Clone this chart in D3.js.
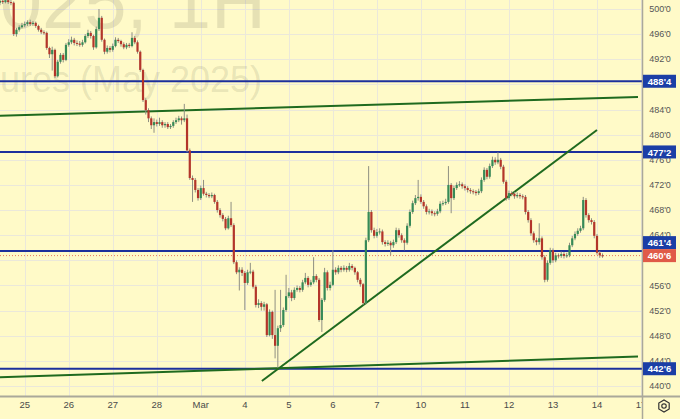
<!DOCTYPE html>
<html><head><meta charset="utf-8">
<script src="https://cdn.jsdelivr.net/npm/d3@7"></script>
<style>html,body{margin:0;padding:0;background:#fffac8;} svg{display:block}</style>
</head><body>
<svg id="chart" width="680" height="419"></svg>
<script>
// ---- data ----
const dateLabels = ["25","26","27","28","Mar","4","5","6","7","10","11","12","13","14","17"];
const dateBarIndex = [9,25,41,57,73,89,105,121,137,153,169,185,201,217,233];
const priceTicks = [440,444,448,452,456,460,464,468,472,476,480,484,488,492,496,500];
const levelPrices = [488.5, 477.25, 461.5, 442.75];
const lastPrice = 460.75;
const watermarkLines = ["ZCK2025, 1H", "Corn Futures (May 2025)"];
// trend lines: [barIndex, price] pairs
const upperLine = [[0, 483.0], [231.9, 486.0]];
const risingLine = [[95.2, 440.8], [217, 480.74]];
const lowerLine = [[0, 441.4], [231.9, 444.7]];

const open = [501.0,501.3,501.1,501.4,501.1,501.0,496.0,496.7,497.1,497.4,497.6,497.9,497.6,497.8,497.3,496.7,496.3,496.2,493.8,492.8,
493.5,489.3,491.6,492.7,491.9,494.3,494.7,495.1,494.6,494.5,494.3,494.7,495.7,496.2,495.7,493.9,496.8,498.6,495.1,493.2,
493.8,493.5,494.1,495.1,494.9,494.4,493.9,494.3,494.1,495.4,494.7,493.2,490.3,485.5,483.9,482.6,481.5,482.0,481.7,482.0,
481.5,481.7,481.2,481.4,482.0,482.3,482.6,482.3,482.6,477.5,473.1,472.8,471.2,469.9,471.5,470.6,470.4,470.2,470.4,469.3,
468.0,467.2,466.6,465.1,466.7,465.6,459.7,458.1,458.5,458.0,456.4,458.1,458.2,455.8,452.9,453.2,452.6,453.0,448.1,451.8,
448.1,446.4,449.2,449.7,452.1,454.3,454.9,454.0,455.3,455.6,455.3,456.5,457.2,456.1,456.5,457.5,456.9,450.5,453.7,458.1,
455.6,456.1,458.5,458.1,458.8,458.5,458.8,458.5,459.1,458.8,458.1,456.9,456.2,453.2,463.2,467.7,464.8,463.9,464.5,464.6,
462.9,462.6,462.8,462.4,462.9,464.8,464.0,463.2,462.8,465.5,467.7,469.1,469.9,470.1,469.3,468.6,467.7,467.8,467.5,467.4,
467.8,469.0,469.1,469.3,472.0,469.9,471.5,472.0,472.1,471.8,471.5,471.2,471.0,470.9,470.7,471.0,472.8,474.4,473.3,475.0,
476.0,475.6,476.0,474.9,472.5,469.9,470.7,470.6,470.2,470.4,470.2,470.1,467.7,466.4,464.3,463.2,462.9,463.5,460.5,456.9,
459.6,461.6,460.0,460.8,460.7,461.0,460.7,460.8,462.4,463.5,464.2,464.7,465.1,469.6,467.2,466.4,466.1,463.9,461.2,460.8];
const close = [501.3,501.1,501.4,501.1,501.0,496.0,496.7,497.1,497.4,497.6,497.9,497.6,497.8,497.3,496.7,496.3,496.2,493.8,492.8,493.5,
489.3,491.6,492.7,491.9,494.3,494.7,495.1,494.6,494.5,494.3,494.7,495.7,496.2,495.7,493.9,496.8,498.6,495.1,493.2,493.8,
493.5,494.1,495.1,494.9,494.4,493.9,494.3,494.1,495.4,494.7,493.2,490.3,485.5,483.9,482.6,481.5,482.0,481.7,482.0,481.5,
481.7,481.2,481.4,482.0,482.3,482.6,482.3,482.6,477.5,473.1,472.8,471.2,469.9,471.5,470.6,470.4,470.2,470.4,469.3,468.0,
467.2,466.6,465.1,466.7,465.6,459.7,458.1,458.5,458.0,456.4,458.1,458.2,455.8,452.9,453.2,452.6,453.0,448.1,451.8,448.1,
446.4,449.2,449.7,452.1,454.3,454.9,454.0,455.3,455.6,455.3,456.5,457.2,456.1,456.5,457.5,456.9,450.5,453.7,458.1,455.6,
456.1,458.5,458.1,458.8,458.5,458.8,458.5,459.1,458.8,458.1,456.9,456.2,453.2,463.2,467.7,464.8,463.9,464.5,464.6,462.9,
462.6,462.8,462.4,462.9,464.8,464.0,463.2,462.8,465.5,467.7,469.1,469.9,470.1,469.3,468.6,467.7,467.8,467.5,467.4,467.8,
469.0,469.1,469.3,472.0,469.9,471.5,472.0,472.1,471.8,471.5,471.2,471.0,470.9,470.7,471.0,472.8,474.4,473.3,475.0,476.0,
475.6,476.0,474.9,472.5,469.9,470.7,470.6,470.2,470.4,470.2,470.1,467.7,466.4,464.3,463.2,462.9,463.5,460.5,456.9,459.6,
461.6,460.0,460.8,460.7,461.0,460.7,460.8,462.4,463.5,464.2,464.7,465.1,469.6,467.2,466.4,466.1,463.9,461.2,460.8,460.75];
const high = [501.8,501.6,501.9,501.7,501.5,501.2,497.0,497.4,497.8,498.0,498.2,498.3,498.1,498.0,497.5,497.0,496.6,496.4,494.0,494.0,
493.7,491.9,493.0,493.0,494.6,495.2,495.6,495.4,495.0,494.9,495.1,496.0,496.7,496.5,495.9,497.2,500.0,498.9,495.3,494.2,
494.1,494.5,495.5,495.4,495.1,494.7,494.6,494.6,496.3,495.7,495.0,493.4,490.5,485.8,484.2,482.9,482.6,482.4,482.7,482.3,
482.0,482.0,481.7,482.3,482.7,483.0,482.9,484.9,483.2,477.8,473.5,473.1,471.5,471.9,472.8,470.9,470.7,470.8,470.6,469.6,
468.3,467.5,466.9,467.1,469.3,465.9,460.0,458.9,458.9,458.3,458.5,459.6,458.5,456.1,453.8,453.5,453.4,453.2,452.2,452.0,
455.3,449.6,455.3,452.5,457.7,455.6,455.3,455.7,456.0,455.9,456.9,458.0,457.5,456.9,460.5,457.8,457.2,454.0,458.8,458.4,
456.6,461.6,458.9,459.2,459.1,459.2,459.1,459.6,459.4,459.0,458.3,457.2,456.4,463.6,475.0,468.0,465.2,465.0,465.1,464.9,
463.2,463.2,463.1,463.3,465.2,465.1,464.3,463.5,465.9,468.1,469.5,470.4,472.8,470.5,469.6,468.9,468.2,468.1,467.8,468.2,
469.4,469.5,469.8,475.0,472.3,471.9,472.4,472.6,472.4,472.1,471.8,471.5,471.3,471.2,471.4,473.2,474.8,474.7,475.4,476.5,
476.4,477.2,476.3,475.2,472.8,471.1,471.0,470.9,470.8,470.7,470.5,470.4,468.0,466.7,464.6,463.6,465.9,463.8,460.8,460.0,
462.0,461.9,461.2,461.1,461.4,461.3,461.2,462.8,463.9,464.6,465.1,465.5,470.1,469.9,467.5,466.7,466.4,464.2,461.5,461.1];
const low = [500.6,500.8,500.9,500.8,500.6,495.7,495.6,496.4,496.9,497.1,497.3,497.3,497.3,497.0,496.4,496.0,495.9,493.5,492.2,490.2,
489.0,489.1,491.3,491.5,491.7,494.0,494.4,494.2,494.1,494.0,494.0,494.5,495.4,495.3,493.5,493.7,496.5,494.8,492.8,492.9,
493.1,493.2,493.9,494.6,494.0,493.6,493.6,493.8,493.9,494.4,492.9,490.0,485.2,483.2,482.0,480.9,480.3,481.3,481.4,481.1,
481.1,480.9,480.9,481.1,481.7,482.0,481.6,482.0,477.2,472.8,469.3,470.8,469.5,469.6,470.3,470.0,469.9,469.9,469.0,467.6,
466.8,466.2,464.8,464.9,465.3,459.4,457.8,455.2,457.5,452.1,456.1,457.8,455.5,452.5,452.4,452.0,452.0,447.8,447.9,447.5,
444.4,442.9,448.6,449.4,451.8,454.0,453.5,453.7,455.0,454.9,455.0,456.2,455.7,455.8,456.2,456.5,450.2,448.6,453.4,455.2,
455.2,455.9,457.7,457.8,458.1,458.2,458.1,458.2,458.4,457.7,456.5,455.8,452.9,453.0,462.9,464.4,463.5,463.6,464.1,462.5,
462.2,462.3,460.8,462.0,462.6,463.6,462.8,461.6,462.5,465.2,467.4,468.8,469.5,469.0,468.2,467.3,467.3,467.1,467.0,467.1,
467.5,468.7,468.8,469.0,467.5,469.6,471.2,471.7,471.4,471.1,470.8,470.6,470.5,470.3,470.4,470.7,472.5,472.9,473.0,474.7,
475.2,475.3,474.5,472.2,469.5,469.6,470.2,469.8,469.9,469.8,469.7,467.3,466.0,463.9,462.8,462.4,462.5,460.1,456.5,456.6,
459.3,459.6,459.7,460.3,460.4,460.3,460.4,460.5,462.1,463.2,463.9,464.4,464.8,466.8,466.0,465.7,463.5,460.9,460.4,460.4];

// ---- layout ----
const W = 680, H = 419, plotR = 642, plotB = 396;
const svg = d3.select("#chart");
const x = d3.scaleLinear().domain([9, 217]).range([24.7, 597]);
const y = d3.scaleLinear().domain([440, 500]).range([386, 9]);
const fmt = v => { const w = Math.floor(v + 1e-9); return w + "'" + Math.round((v - w) * 8); };

svg.append("rect").attr("width", W).attr("height", H).attr("fill", "#fffac8");
const defs = svg.append("defs");
defs.append("clipPath").attr("id", "plot").append("rect").attr("x", 0).attr("y", 0).attr("width", plotR).attr("height", plotB);
defs.append("clipPath").attr("id", "xaxis").append("rect").attr("x", 0).attr("y", plotB).attr("width", plotR).attr("height", H - plotB);

const plot = svg.append("g").attr("clip-path", "url(#plot)");

// grid
plot.append("g").selectAll("line").data(priceTicks).join("line")
  .attr("x1", 0).attr("x2", plotR).attr("y1", d => Math.round(y(d)) + 0.5).attr("y2", d => Math.round(y(d)) + 0.5)
  .attr("stroke", "#ebe8da").attr("stroke-width", 1);
plot.append("g").selectAll("line").data(dateBarIndex).join("line")
  .attr("y1", 0).attr("y2", plotB).attr("x1", d => Math.round(x(d)) + 0.5).attr("x2", d => Math.round(x(d)) + 0.5)
  .attr("stroke", "#ebe8da").attr("stroke-width", 1);

// watermark
plot.append("text").text(watermarkLines[0]).attr("x", 266).attr("y", 28)
  .attr("text-anchor", "end").attr("font-family", "Liberation Sans, Arial, sans-serif").attr("font-size", 76)
  .attr("fill", "rgba(90,90,70,0.15)");
plot.append("text").text(watermarkLines[1]).attr("x", 262).attr("y", 92)
  .attr("text-anchor", "end").attr("font-family", "Liberation Sans, Arial, sans-serif").attr("font-size", 36)
  .attr("fill", "rgba(90,90,70,0.15)");

// current price dotted line
plot.append("line").attr("x1", 0).attr("x2", plotR).attr("y1", y(lastPrice)).attr("y2", y(lastPrice))
  .attr("stroke", "#e8765e").attr("stroke-width", 1).attr("stroke-dasharray", "1,2");

// horizontal levels
plot.append("g").selectAll("line").data(levelPrices).join("line")
  .attr("x1", 0).attr("x2", plotR).attr("y1", d => y(d)).attr("y2", d => y(d))
  .attr("stroke", "#1c2f9c").attr("stroke-width", 2);

// trend lines
const lineGen = d3.line().x(d => x(d[0])).y(d => y(d[1]));
plot.append("g").selectAll("path").data([upperLine, risingLine, lowerLine]).join("path")
  .attr("d", lineGen).attr("fill", "none").attr("stroke", "#1f6a1f").attr("stroke-width", 2);

// candles
const idx = d3.range(close.length);
const cg = plot.append("g");
cg.selectAll("line").data(idx).join("line")
  .attr("x1", i => x(i)).attr("x2", i => x(i))
  .attr("y1", i => y(high[i])).attr("y2", i => y(low[i]))
  .attr("stroke", "#8f8f82").attr("stroke-width", 1);
cg.selectAll("rect").data(idx).join("rect")
  .attr("x", i => x(i) - 1.1).attr("width", 2.2)
  .attr("y", i => y(Math.max(open[i], close[i])))
  .attr("height", i => Math.max(1, Math.abs(y(open[i]) - y(close[i]))))
  .attr("fill", i => close[i] >= open[i] ? "#368a57" : "#b3352a");

// axes frame
svg.append("line").attr("x1", 0).attr("x2", W).attr("y1", plotB + 0.5).attr("y2", plotB + 0.5)
  .attr("stroke", "#aaa89a").attr("stroke-width", 2);
svg.append("line").attr("x1", plotR + 0.5).attr("x2", plotR + 0.5).attr("y1", 0).attr("y2", H)
  .attr("stroke", "#aaa89a").attr("stroke-width", 1.5);

// date labels
svg.append("g").attr("clip-path", "url(#xaxis)").selectAll("text").data(dateBarIndex).join("text")
  .attr("x", d => x(d)).attr("y", 408).attr("text-anchor", "middle")
  .attr("font-family", "Liberation Sans, Arial, sans-serif").attr("font-size", 9.5).attr("fill", "#4a4a4a")
  .text((d, k) => dateLabels[k]);

// level label boxes (shift to avoid overlapping the current price box)
const boxH = 13;
const lastY = y(lastPrice);
const boxes = levelPrices.map(p => {
  let cy = y(p);
  if (Math.abs(cy - lastY) < boxH) cy = lastY - boxH;
  return { p, cy, fill: "#1b3ea6" };
});
boxes.push({ p: lastPrice, cy: lastY, fill: "#e05a48" });

// price tick labels (those hidden behind a label box are skipped)
const visibleTicks = priceTicks.filter(t => boxes.every(b => Math.abs(y(t) - b.cy) > 5.5));
svg.append("g").selectAll("text").data(visibleTicks).join("text")
  .attr("x", 660).attr("y", d => y(d) + 3.2).attr("text-anchor", "middle")
  .attr("font-family", "Liberation Sans, Arial, sans-serif").attr("font-size", 9).attr("fill", "#555")
  .text(d => fmt(d));

const bg = svg.append("g").selectAll("g").data(boxes).join("g");
bg.append("rect").attr("x", 643).attr("width", 33).attr("y", d => d.cy - boxH / 2).attr("height", boxH).attr("fill", d => d.fill);
bg.append("text").attr("x", 659.5).attr("y", d => d.cy + 3.6).attr("text-anchor", "middle")
  .attr("font-family", "Liberation Sans, Arial, sans-serif").attr("font-size", 9.5).attr("font-weight", "bold")
  .attr("fill", "#fff").text(d => fmt(d.p));

// settings icon
const ic = svg.append("g").attr("transform", "translate(664,406)");
const hex = d3.range(6).map(k => [6 * Math.cos(Math.PI / 3 * k + Math.PI / 6), 6 * Math.sin(Math.PI / 3 * k + Math.PI / 6)]);
ic.append("path").attr("d", "M" + hex.map(p => p.join(",")).join("L") + "Z").attr("fill", "none").attr("stroke", "#333").attr("stroke-width", 1.2);
ic.append("circle").attr("r", 2.2).attr("fill", "none").attr("stroke", "#333").attr("stroke-width", 1.2);
</script>
</body></html>
